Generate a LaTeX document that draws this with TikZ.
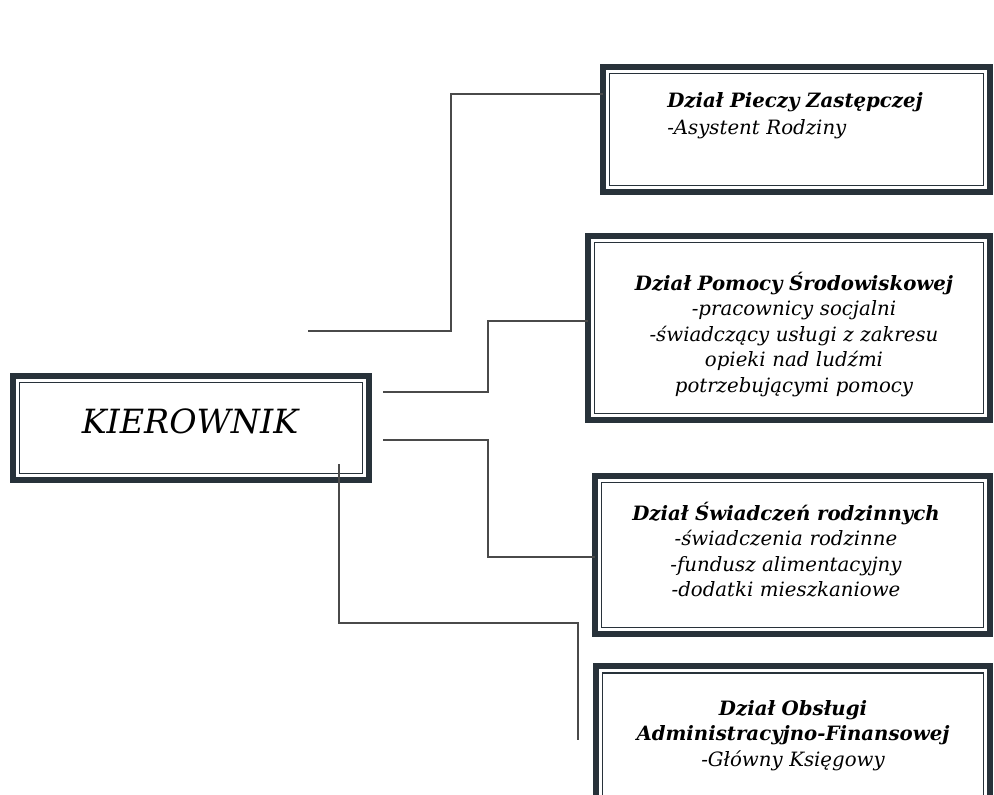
\documentclass[tikz,border=0pt]{standalone}
\usepackage{fontspec}
\usetikzlibrary{calc}
\setmainfont{DejaVu Serif}
\definecolor{boxdark}{HTML}{28323A}
\definecolor{linegray}{HTML}{4A4A4A}
\begin{document}
\begin{tikzpicture}[x=0.75pt,y=-0.75pt,
  outerframe/.style={draw=boxdark, line width=4.5pt, inner sep=0pt, outer sep=0pt, fill=white},
  thinframe/.style={draw=boxdark, line width=1.3pt},
  conn/.style={draw=linegray, line width=1.3pt},
  itemtext/.style={inner sep=0pt, font=\fontsize{14.8pt}{19.2pt}\selectfont\itshape}]
\useasboundingbox (0,0) rectangle (994,794);
\clip (0,0) rectangle (994,794);
\fill[white] (0,0) rectangle (994,794);

% boxes
\node[outerframe, minimum width=267pt, minimum height=78pt] (k) at (191,428) {};
\node[outerframe, minimum width=290.25pt, minimum height=93.75pt] (b1) at (796.5,129.5) {};
\node[outerframe, minimum width=301.5pt, minimum height=138pt] (b2) at (789,328) {};
\node[outerframe, minimum width=296.25pt, minimum height=118.5pt] (b3) at (792.5,555) {};
\node[outerframe, minimum width=295.5pt, minimum height=118pt] (b4) at (793,745) {};
\foreach \b in {k,b1,b2,b3,b4}{
  \draw[thinframe] ($(\b.north west)+(6.6,6.6)$) rectangle ($(\b.south east)+(-6.6,-6.6)$);
}

% texts
\node[inner sep=0pt, anchor=base, font=\fontsize{25pt}{30pt}\selectfont\itshape] (tk) at (190,433) {KIEROWNIK};
\node[itemtext, anchor=base west, text width=260pt, align=left] (t1) at (667,107)
  {\textbf{Dział Pieczy Zastępczej}\\[1.5pt]-Asystent Rodziny};
\node[itemtext, anchor=base, text width=295pt, align=center] (t2) at (794,290)
  {\textbf{Dział Pomocy Środowiskowej}\\-pracownicy socjalni\\-świadczący usługi z zakresu\\opieki nad ludźmi\\potrzebującymi pomocy};
\node[itemtext, anchor=base, text width=295pt, align=center] (t3) at (786,520)
  {\textbf{Dział Świadczeń rodzinnych}\\-świadczenia rodzinne\\-fundusz alimentacyjny\\-dodatki mieszkaniowe};
\node[itemtext, anchor=base, text width=295pt, align=center] (t4) at (793,715)
  {\textbf{Dział Obsługi}\\\textbf{Administracyjno-Finansowej}\\-Główny Księgowy};

% connectors
\coordinate (s1) at (308,331);
\coordinate (j1) at (451,94);
\draw[conn] (s1) -| (j1) -- (b1.west |- j1);
\coordinate (s2) at (383,392);
\coordinate (j2) at (488,321);
\draw[conn] (s2) -| (j2) -- (b2.west |- j2);
\coordinate (s3) at (383,440);
\coordinate (j3) at (488,557);
\draw[conn] (s3) -| (j3) -- (b3.west |- j3);
\coordinate (s4) at (339,464);
\coordinate (j4) at (578,623);
\coordinate (e4) at (578,740);
\draw[conn] (s4) |- (j4) -- (e4);
\end{tikzpicture}
\end{document}
